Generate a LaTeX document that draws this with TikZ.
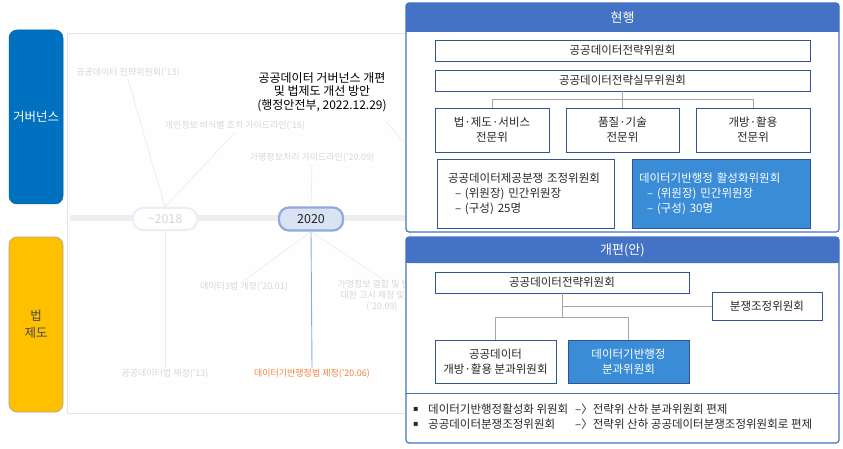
\documentclass[tikz,border=0pt]{standalone}
\usepackage{fontspec}
\setmainfont{Noto Sans CJK KR}
\newfontfamily\dejavu{DejaVu Sans}
\usetikzlibrary{calc}
\definecolor{govblue}{HTML}{0070C0}
\definecolor{lawyellow}{HTML}{FFC000}
\definecolor{headblue}{HTML}{4472C4}
\definecolor{boxline}{HTML}{2F5597}
\definecolor{fillblue}{HTML}{3A8CD6}
\definecolor{connline}{HTML}{A6A6A6}
\definecolor{faded}{HTML}{D6D6D6}
\definecolor{fadeline}{HTML}{EAEAEA}
\definecolor{pillfill}{HTML}{DAE3F3}
\definecolor{pillline}{HTML}{8FAADC}
\definecolor{orangetxt}{HTML}{F0843F}
\definecolor{txt}{HTML}{262626}
\newcommand\kfs[2]{\fontsize{#1pt}{#2pt}\selectfont}
\begin{document}
\begin{tikzpicture}[x=1pt,y=-1pt,
  side/.style={minimum width=54pt, minimum height=174pt, rounded corners=8pt, inner sep=0pt, align=center},
  box/.style={draw=boxline, line width=0.8pt, fill=white, inner sep=0pt, align=center, text=txt, font=\kfs{11.5}{15}},
  bluebox/.style={box, fill=fillblue, text=white},
  conn/.style={draw=connline, line width=0.8pt},
  fadelbl/.style={fill=white, text=faded, font=\kfs{9}{11}, inner sep=1.5pt, align=center},
  fadeln/.style={draw=fadeline, line width=0.6pt},
  pill/.style={minimum width=64pt, minimum height=22pt, rounded corners=10pt, inner sep=0pt, font=\kfs{12.5}{14}},
  hdrtxt/.style={text=white, font=\kfs{13}{15}},
  bultxt/.style={anchor=west, inner sep=0pt, text=txt, font=\kfs{11.5}{12}},
  bulmark/.style={anchor=west, inner sep=0pt, text=txt, font=\dejavu\kfs{8}{9}},
]
\useasboundingbox (0,0) rectangle (843,449);
\fill[white] (0,0) rectangle (843,449);

% left side labels
\node[side, fill=govblue, draw=govblue!85!black, line width=0.5pt, text=white, font=\kfs{12.5}{16}] (gov) at (36,117) {거버넌스};
\node[side, minimum height=175pt, fill=lawyellow, draw=gray!70, line width=0.6pt, text=txt!85, font=\kfs{12.5}{17}] (law) at (36,324.5) {법\\제도};

% background timeline panel
\node[draw=gray!20, line width=0.8pt, fill=gray!1, minimum width=343pt, minimum height=380pt, inner sep=0pt] (bg) at (238.5,223) {};
\coordinate (tl0) at (70,218);
\coordinate (tl1) at (410,218);
\draw[line width=6pt, draw=gray!13] (tl0) -- (tl1);

% pills
\node[pill, draw=pillline!20, line width=2pt, fill=white, text=faded] (p18) at (165,219) {\textasciitilde2018};
\node[pill, minimum height=23pt, draw=pillline, line width=2.2pt, fill=pillfill, text=txt] (p20) at (311,219) {2020};

% faded labels
\node[fadelbl] (l13) at (128,73) {공공데이터 전략위원회(’13)};
\node[fadelbl] (l16) at (235,126) {개인정보 비식별 조치 가이드라인(’16)};
\node[fadelbl] (l2009) at (312,158) {가명정보처리 가이드라인(’20.09)};
\node[fadelbl] (l2001) at (244,287) {데이터3법 개정(’20.01)};
\node[fadelbl] (lcomb) at (382,296) {가명정보 결합 및 반출에\\대한 고시 제정 및 개정\\(’20.09)};
\node[fadelbl] (llaw) at (165,374) {공공데이터법 제정(’13)};
\node[fadelbl, text=orangetxt] (ldata) at (312,374) {데이터기반행정법 제정(’20.06)};

% faded connectors
\draw[fadeln] (p18.north) -- (l13.south);
\draw[fadeln] (p18.north) -- (l16.south);
\draw[fadeln] (p18.south) -- (llaw.north);
\draw[fadeln] (p20.north) -- (l2009.south);
\draw[fadeln] (p20.south) -- (l2001.north);
\draw[fadeln] (p20.south) -- (lcomb.north);
\draw[draw=pillline, line width=0.9pt] (p20.south) -- (ldata.north);
\coordinate (fx0) at (386,121);
\coordinate (fx1) at (407,146);
\draw[fadeln] (fx0) -- (fx1);

% title
\node[fill=white, text=black, align=center, font=\kfs{12}{13.5}, inner sep=2pt] (title) at (322,92) {공공데이터 거버넌스 개편\\및 법제도 개선 방안\\(행정안전부, 2022.12.29)};

% ===== panel 1 : 현행 =====
\node[draw=headblue, line width=1.2pt, fill=white, minimum width=433pt, minimum height=229pt, inner sep=0pt, rounded corners=3pt] (cur) at (622.5,117.5) {};
\fill[headblue, rounded corners=3pt] (406,3) rectangle (839,32);
\fill[headblue] (406,20) rectangle (839,32);
\node[hdrtxt] (curh) at (622.5,17.5) {현행};

\node[box, minimum width=375pt, minimum height=21pt] (s1) at (622.5,50.5) {공공데이터전략위원회};
\node[box, minimum width=375pt, minimum height=21pt] (s2) at (622.5,80.5) {공공데이터전략실무위원회};
\node[box, minimum width=114pt, minimum height=44pt] (e1) at (492,130) {법·제도·서비스\\전문위};
\node[box, minimum width=113pt, minimum height=44pt] (e2) at (622.5,130) {품질·기술\\전문위};
\node[box, minimum width=114pt, minimum height=44pt] (e3) at (753,130) {개방·활용\\전문위};
\draw[conn] (s2.south) -- ++(0,8) coordinate (j1);
\draw[conn] (e1.north) |- (j1) -| (e3.north);
\draw[conn] (j1) -- (e2.north);

\node[box, align=left, text width=155pt, minimum height=69pt, inner xsep=11pt, inner ysep=0pt] (d1) at (525.5,193.5) {공공데이터제공분쟁 조정위원회\\\hspace*{7pt}– (위원장) 민간위원장\\\hspace*{7pt}– (구성) 25명};
\node[bluebox, align=left, text width=164pt, minimum height=69pt, inner xsep=7pt, inner ysep=0pt] (d2) at (721,193.5) {데이터기반행정 활성화위원회\\\hspace*{8pt}– (위원장) 민간위원장\\\hspace*{8pt}– (구성) 30명};

% ===== panel 2 : 개편(안) =====
\node[draw=headblue, line width=1.2pt, fill=white, minimum width=433pt, minimum height=206pt, inner sep=0pt, rounded corners=3pt] (new) at (622.5,340) {};
\fill[headblue, rounded corners=3pt] (406,237) rectangle (839,263);
\fill[headblue] (406,252) rectangle (839,263);
\node[hdrtxt] (newh) at (622.5,250) {개편(안)};
\coordinate (sep0) at (406,393);
\coordinate (sep1) at (839,393);
\draw[draw=headblue, line width=1pt] (sep0) -- (sep1);

\node[box, minimum width=254pt, minimum height=21pt] (n1) at (562,282.5) {공공데이터전략위원회};
\node[box, minimum width=110pt, minimum height=28pt] (n2) at (767,306) {분쟁조정위원회};
\node[box, minimum width=121pt, minimum height=43pt] (n3) at (495.5,361.5) {공공데이터\\개방·활용 분과위원회};
\node[bluebox, minimum width=121pt, minimum height=43pt] (n4) at (628.5,361.5) {데이터기반행정\\분과위원회};
\draw[conn] (n1.south) -- ++(0,24) coordinate (j2);
\coordinate (j3) at (n1.south |- n2.west);
\draw[conn] (j3) -- (n2.west);
\draw[conn] (n3.north) |- (j2) -| (n4.north);

% bullets
\node[bulmark] (m1) at (413,409) {▪};
\node[bulmark] (m2) at (413,424) {▪};
\node[bultxt] (b1a) at (428,409) {데이터기반행정활성화 위원회};
\node[bultxt] (b1b) at (575,409) {–〉전략위 산하 분과위원회 편제};
\node[bultxt] (b2a) at (428,424) {공공데이터분쟁조정위원회};
\node[bultxt] (b2b) at (575,424) {–〉전략위 산하 공공데이터분쟁조정위원회로 편제};
\end{tikzpicture}
\end{document}
